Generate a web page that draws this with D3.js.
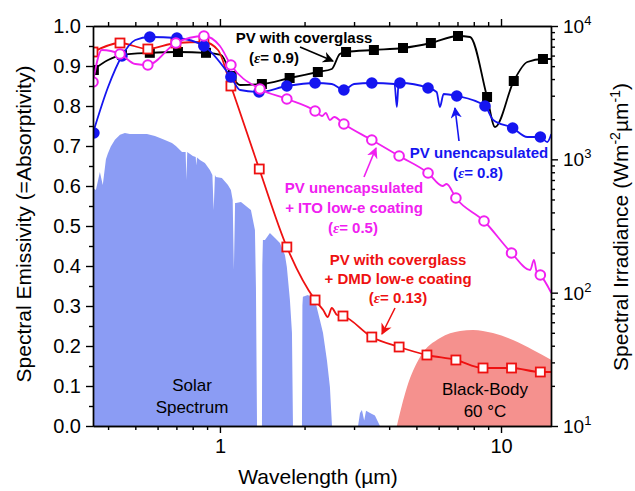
<!DOCTYPE html>
<html>
<head>
<meta charset="utf-8">
<script src="https://cdn.jsdelivr.net/npm/d3@7"></script>
<style>
  body { margin: 0; background: #fff; }
  svg { font-family: "Liberation Sans", Arial, sans-serif; }
  .axis path, .axis line { stroke: #000; stroke-width: 1.4; }
  .axis text { font-size: 20px; fill: #000; }
</style>
</head>
<body>
<svg id="chart" width="635" height="491"></svg>
<script>
// ---- data (wavelength in um) ----
const solarWl  = [0.3535,0.362,0.374,0.383,0.393,0.399,0.409,0.423,0.441,0.459,0.478,0.519,0.550,0.587,0.612,0.637,0.675,0.697,0.733,0.755,0.760,0.765,0.801,0.820,0.824,0.829,0.849,0.884,0.921,0.940,0.950,0.960,0.968,1.016,1.068,1.094,1.110,1.121,1.132,1.140,1.188,1.289,1.332,1.343,1.355,1.411,1.415,1.422,1.446,1.506,1.570,1.635,1.703,1.730,1.774,1.804,1.819,1.958,1.965,1.973,2.056,2.178,2.269,2.326,2.403,2.462,2.504,3.10,3.15,3.20,3.26,3.31,3.42,3.56,3.71,15.1];
const solarIrr = [610,589,804,642,1000,1100,1250,1400,1530,1576,1549,1549,1549,1496,1445,1396,1326,1259,1135,1135,700,1135,1059,1040,900,1030,989,939,832,763,417,763,737,724,642,589,495,148,470,470,479,417,295,110,10,10,160,248,248,280,257,236,192,156,88,50,10,10,80,93,96,88,62,50,31,19.6,10,10,12.5,13.2,11,13,12.5,12,10,10];

const bbWl  = [4.26,4.63,5.15,6.07,7.15,7.95,9.36,11.03,13.0,15.1];
const bbIrr = [10,19.6,32.9,45.7,51.6,52.5,49.8,44.2,37.2,31.3];

// PV with coverglass (eps 0.9)
const coverWl   = [0.3535,0.40,0.448,0.563,0.709,0.892,1.01,1.10,1.18,1.41,1.77,2.23,2.50,2.67,2.81,3.53,4.48,5.63,7.03,7.76,8.92,9.52,11.1,12.4,14.1,15.1];
const coverE    = [0.89,0.915,0.928,0.933,0.935,0.933,0.9275,0.875,0.8525,0.855,0.87,0.885,0.8925,0.93,0.935,0.94,0.945,0.9575,0.975,0.9725,0.8225,0.7475,0.8625,0.91,0.9175,0.9175];
const coverMkWl = [0.356,0.448,0.563,0.709,0.892,1.10,1.41,1.77,2.23,2.81,3.53,4.48,5.63,7.03,8.92,11.1,14.1];
const coverMkE  = [0.89,0.928,0.933,0.935,0.933,0.875,0.855,0.87,0.885,0.935,0.94,0.945,0.9575,0.975,0.8225,0.8625,0.9175];

// PV unencapsulated (eps 0.8)
const bareWl   = [0.3535,0.40,0.448,0.50,0.563,0.703,0.877,1.094,1.18,1.377,1.73,2.18,2.5,2.76,3.0,3.47,4.18,4.26,4.32,4.37,5.50,5.9,6.06,6.25,6.96,8.77,9.38,11.0,12.4,13.8,14.6,15.1];
const bareE    = [0.7325,0.8475,0.925,0.965,0.9725,0.97,0.95,0.8725,0.84,0.835,0.85,0.8575,0.855,0.84,0.855,0.8575,0.855,0.7975,0.855,0.8575,0.845,0.835,0.7975,0.83,0.825,0.80,0.765,0.745,0.7225,0.7225,0.71,0.73];
const bareMkWl = [0.356,0.448,0.563,0.703,0.877,1.094,1.377,1.73,2.18,2.76,3.47,4.37,5.50,6.96,8.77,11.0,13.8];
const bareMkE  = [0.7325,0.925,0.9725,0.97,0.95,0.8725,0.835,0.85,0.8575,0.84,0.8575,0.8575,0.845,0.825,0.80,0.745,0.7225];

// PV unencapsulated + ITO (eps 0.5)
const itoWl   = [0.3535,0.38,0.441,0.50,0.554,0.697,0.877,1.0,1.094,1.388,1.73,2.18,2.31,2.38,2.46,2.55,2.76,3.47,4.34,5.50,6.2,6.4,6.91,8.70,10.9,12.7,13.1,13.4,13.8,15.1];
const itoE    = [0.86,0.94,0.93,0.905,0.9025,0.9575,0.975,0.95,0.9025,0.8425,0.8175,0.7875,0.775,0.7825,0.765,0.7725,0.755,0.715,0.675,0.6325,0.60,0.605,0.57,0.5125,0.4325,0.39,0.415,0.385,0.3775,0.3325];
const itoMkWl = [0.3535,0.441,0.554,0.697,0.877,1.094,1.388,1.73,2.18,2.76,3.47,4.34,5.50,6.91,8.70,10.9,13.8];
const itoMkE  = [0.86,0.93,0.9025,0.9575,0.975,0.9025,0.8425,0.8175,0.7875,0.755,0.715,0.675,0.6325,0.57,0.5125,0.4325,0.3775];

// PV with coverglass + DMD (eps 0.13)
const dmdWl   = [0.3535,0.441,0.554,0.697,0.877,0.984,1.094,1.38,1.73,2.18,2.33,2.42,2.50,2.61,2.74,3.47,4.34,5.45,6.91,8.63,10.9,13.8,15.1];
const dmdE    = [0.935,0.9575,0.9425,0.9575,0.96,0.94,0.85,0.6425,0.4475,0.315,0.29,0.2725,0.295,0.2775,0.275,0.2225,0.1975,0.1775,0.165,0.145,0.145,0.135,0.135];
const dmdMkWl = [0.3535,0.441,0.554,0.697,0.877,1.094,1.38,1.73,2.18,2.74,3.47,4.34,5.45,6.91,8.63,10.9,13.8];
const dmdMkE  = [0.935,0.9575,0.9425,0.9575,0.96,0.85,0.6425,0.4475,0.315,0.275,0.2225,0.1975,0.1775,0.165,0.145,0.145,0.135];

const leftTicks  = [0,0.1,0.2,0.3,0.4,0.5,0.6,0.7,0.8,0.9,1.0];
const xMajor     = [1,10];
const rightTicks = [1e1,1e2,1e3,1e4];

// ---- layout ----
const L = 93, R = 551, T = 26, B = 426;
const svg = d3.select("#chart");

let x  = d3.scaleLog().domain([0.3535, 15.06]).range([L, R]);
let yL = d3.scaleLinear().domain([0, 1]).range([B, T]);
let yR = d3.scaleLog().domain([10, 1e4]).range([B, T]).clamp(true);

svg.append("defs").append("clipPath").attr("id", "plotclip")
   .append("rect").attr("x", L).attr("y", T).attr("width", R - L).attr("height", B - T);

let plot = svg.append("g").attr("clip-path", "url(#plotclip)");

// solar spectrum
let solar = solarWl.map((w, i) => [w, solarIrr[i]]);
plot.append("path").datum(solar)
    .attr("fill", "#8b9cf4")
    .attr("d", d3.area().x(d => x(d[0])).y0(B).y1(d => yR(d[1])));

// black body 60 C
let bb = bbWl.map((w, i) => [w, bbIrr[i]]);
plot.append("path").datum(bb)
    .attr("fill", "#f5918e")
    .attr("d", d3.area().x(d => x(d[0])).y0(B).y1(d => yR(d[1])).curve(d3.curveMonotoneX));

function series(wl, e, mkWl, mkE, color, kind) {
    let pts = wl.map((w, i) => [w, e[i]]);
    plot.append("path").datum(pts)
        .attr("fill", "none").attr("stroke", color).attr("stroke-width", 1.8)
        .attr("d", d3.line().x(d => x(d[0])).y(d => yL(d[1])).curve(d3.curveMonotoneX));
    let mk = mkWl.map((w, i) => [w, mkE[i]]);
    let g = plot.append("g");
    if (kind === "fsq") {
        g.selectAll("rect").data(mk).enter().append("rect")
         .attr("x", d => x(d[0]) - 5).attr("y", d => yL(d[1]) - 5)
         .attr("width", 10).attr("height", 10).attr("fill", color);
    } else if (kind === "osq") {
        g.selectAll("rect").data(mk).enter().append("rect")
         .attr("x", d => x(d[0]) - 4.5).attr("y", d => yL(d[1]) - 4.5)
         .attr("width", 9).attr("height", 9).attr("fill", "#fff")
         .attr("stroke", color).attr("stroke-width", 1.8);
    } else if (kind === "fci") {
        g.selectAll("circle").data(mk).enter().append("circle")
         .attr("cx", d => x(d[0])).attr("cy", d => yL(d[1])).attr("r", 5.8).attr("fill", color);
    } else {
        g.selectAll("circle").data(mk).enter().append("circle")
         .attr("cx", d => x(d[0])).attr("cy", d => yL(d[1])).attr("r", 4.8)
         .attr("fill", "#fff").attr("stroke", color).attr("stroke-width", 2);
    }
}

series(coverWl, coverE, coverMkWl, coverMkE, "#000000", "fsq");
series(dmdWl, dmdE, dmdMkWl, dmdMkE, "#ee1111", "osq");
series(bareWl, bareE, bareMkWl, bareMkE, "#1515f0", "fci");
series(itoWl, itoE, itoMkWl, itoMkE, "#f020f0", "oci");

// ---- axes ----
let minorX = [0.4,0.5,0.6,0.7,0.8,0.9,2,3,4,5,6,7,8,9];
let minorL = d3.range(0.05, 1, 0.1);
let minorR = [];
[10,100,1000].forEach(p => { for (let k = 2; k <= 9; k++) minorR.push(p * k); });

svg.append("g").attr("class", "axis").attr("transform", `translate(0,${B})`)
   .call(d3.axisBottom(x).tickValues(xMajor).tickFormat(d3.format("d")).tickSize(7).tickSizeOuter(0).tickPadding(6));
svg.append("g").attr("class", "axis").attr("transform", `translate(0,${B})`)
   .call(d3.axisBottom(x).tickValues(minorX).tickFormat("").tickSize(4).tickSizeOuter(0));
svg.append("g").attr("class", "axis").attr("transform", `translate(0,${T})`)
   .call(d3.axisTop(x).tickValues(xMajor).tickFormat("").tickSize(7).tickSizeOuter(0));
svg.append("g").attr("class", "axis").attr("transform", `translate(0,${T})`)
   .call(d3.axisTop(x).tickValues(minorX).tickFormat("").tickSize(4).tickSizeOuter(0));

svg.append("g").attr("class", "axis").attr("transform", `translate(${L},0)`)
   .call(d3.axisLeft(yL).tickValues(leftTicks).tickFormat(d3.format(".1f")).tickSize(7).tickSizeOuter(0).tickPadding(5));
svg.append("g").attr("class", "axis").attr("transform", `translate(${L},0)`)
   .call(d3.axisLeft(yL).tickValues(minorL).tickFormat("").tickSize(4).tickSizeOuter(0));

svg.append("g").attr("class", "axis").attr("transform", `translate(${R},0)`)
   .call(d3.axisRight(yR).tickValues(rightTicks).tickFormat("").tickSize(7).tickSizeOuter(0));
svg.append("g").attr("class", "axis").attr("transform", `translate(${R},0)`)
   .call(d3.axisRight(yR).tickValues(minorR).tickFormat("").tickSize(4).tickSizeOuter(0));
rightTicks.forEach(v => {
    let t = svg.append("text").attr("x", R + 12).attr("y", yR(v) + 7)
       .style("font-size", "19px");
    t.append("tspan").text("10");
    t.append("tspan").attr("dy", -8).style("font-size", "13px").text(Math.round(Math.log10(v)));
});

// axis titles
svg.append("text").attr("transform", `translate(31,224) rotate(-90)`)
   .attr("text-anchor", "middle").style("font-size", "21px")
   .text("Spectral Emissivity (=Absorptivity)");
svg.append("text").attr("x", 318).attr("y", 484)
   .attr("text-anchor", "middle").style("font-size", "21px")
   .text("Wavelength (\u00b5m)");
let rt = svg.append("text").attr("transform", `translate(628,227) rotate(-90)`)
   .attr("text-anchor", "middle").style("font-size", "21px");
rt.append("tspan").text("Spectral Irradiance (Wm");
rt.append("tspan").attr("dy", -8).style("font-size", "14px").text("-2");
rt.append("tspan").attr("dy", 8).text("\u00b5m");
rt.append("tspan").attr("dy", -8).style("font-size", "14px").text("-1");
rt.append("tspan").attr("dy", 8).text(")");

// ---- annotations ----
function arrowHead(id, color) {
    svg.select("defs").append("marker").attr("id", id)
       .attr("viewBox", "0 0 10 10").attr("refX", 9).attr("refY", 5)
       .attr("markerWidth", 7).attr("markerHeight", 7).attr("orient", "auto")
       .append("path").attr("d", "M0,0 L10,5 L0,10 L3,5 Z").attr("fill", color);
}
arrowHead("ahK", "#000"); arrowHead("ahB", "#1515f0"); arrowHead("ahM", "#f020f0"); arrowHead("ahR", "#ee1111");

function label(lines, xc, y0, color, dy) {
    lines.forEach((ln, i) => {
        svg.append("text").attr("x", xc).attr("y", y0 + i * dy)
           .attr("text-anchor", "middle").attr("fill", color)
           .style("font-size", "15px").style("font-weight", "bold").text(ln);
    });
}
function epsLabel(val, xc, y, color) {
    let t = svg.append("text").attr("x", xc).attr("y", y).attr("text-anchor", "middle")
       .attr("fill", color).style("font-size", "15px").style("font-weight", "bold");
    t.append("tspan").text("(");
    t.append("tspan").style("font-family", "'Liberation Serif', 'Times New Roman', serif")
       .style("font-style", "italic").text("\u03b5");
    t.append("tspan").text("= " + val + ")");
}
function arrow(x1, y1, x2, y2, color, id) {
    svg.append("line").attr("x1", x1).attr("y1", y1).attr("x2", x2).attr("y2", y2)
       .attr("stroke", color).attr("stroke-width", 1.6).attr("marker-end", `url(#${id})`);
}

label(["PV with coverglass"], 304, 43, "#000", 0);
epsLabel("0.9", 274, 63, "#000");
arrow(300, 47, 333, 61, "#000", "ahK");

label(["PV unencapsulated"], 479, 158, "#1515f0", 0);
epsLabel("0.8", 478, 178, "#1515f0");
arrow(459, 141, 455, 108, "#1515f0", "ahB");

label(["PV unencapsulated", "+ ITO low-e coating"], 354, 193, "#f020f0", 20);
epsLabel("0.5", 353, 233, "#f020f0");
arrow(364, 177, 376, 148, "#f020f0", "ahM");

label(["PV with coverglass", "+ DMD low-e coating"], 398, 265, "#ee1111", 19);
epsLabel("0.13", 398, 303, "#ee1111");
arrow(395, 308, 382, 334, "#ee1111", "ahR");

[["Solar", 391], ["Spectrum", 413]].forEach(d => {
    svg.append("text").attr("x", 192).attr("y", d[1]).attr("text-anchor", "middle")
       .style("font-size", "17px").text(d[0]);
});
[["Black-Body", 395], ["60 \u00b0C", 417]].forEach(d => {
    svg.append("text").attr("x", 485).attr("y", d[1]).attr("text-anchor", "middle")
       .style("font-size", "17px").text(d[0]);
});
</script>
</body>
</html>
